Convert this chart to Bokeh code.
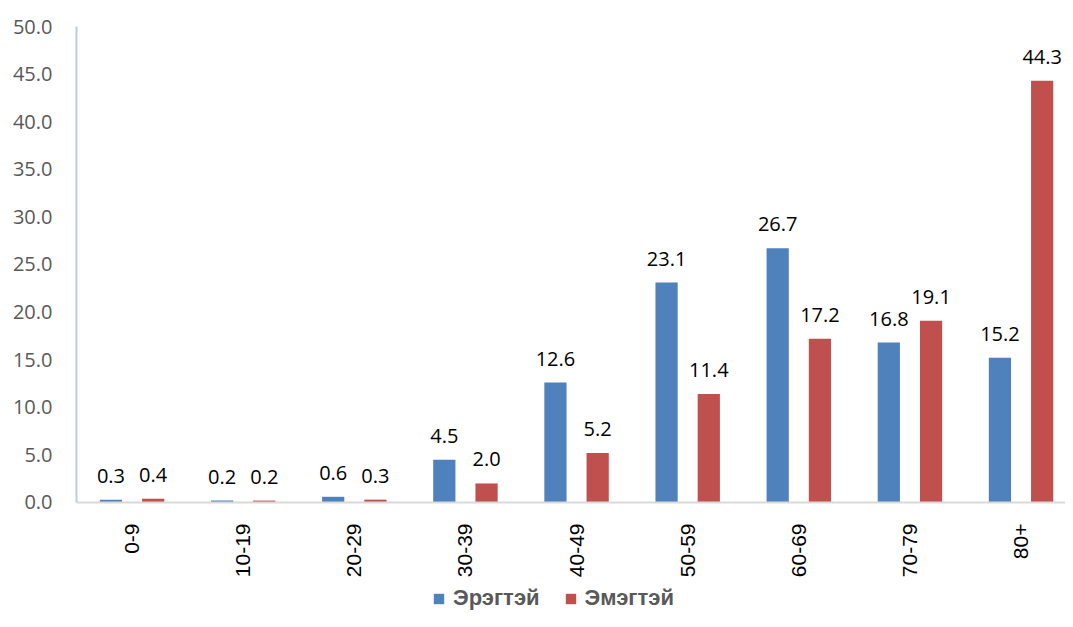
import math
from bokeh.plotting import figure
from bokeh.models import ColumnDataSource, LabelSet, Legend, LegendItem, FixedTicker, Range1d
from bokeh.core.properties import value
from bokeh.embed import file_html
from bokeh.resources import INLINE

categories = ["0-9", "10-19", "20-29", "30-39", "40-49", "50-59", "60-69", "70-79", "80+"]
male = [0.3, 0.2, 0.6, 4.5, 12.6, 23.1, 26.7, 16.8, 15.2]
female = [0.4, 0.2, 0.3, 2.0, 5.2, 11.4, 17.2, 19.1, 44.3]
series_names = ["Эрэгтэй", "Эмэгтэй"]
y_ticks = [0, 5, 10, 15, 20, 25, 30, 35, 40, 45, 50]

BLUE = "#4f81bd"
RED = "#c0504d"
GREY = "#595959"

W, H = 1065, 611
p = figure(width=W, height=H, output_backend="svg", toolbar_location=None,
           x_range=Range1d(0, 8.9), y_range=Range1d(-11.45, 50),
           min_border_left=76, min_border_right=0, min_border_top=26, min_border_bottom=0)
p.outline_line_color = None
p.xgrid.visible = False
p.ygrid.visible = False
p.background_fill_color = "white"

centers = [i + 0.5 for i in range(len(categories))]
src_m = ColumnDataSource(dict(x=[c - 0.19 for c in centers], top=male,
                              lab=["%.1f" % v for v in male]))
src_f = ColumnDataSource(dict(x=[c + 0.19 for c in centers], top=female,
                              lab=["%.1f" % v for v in female]))

rm = p.vbar(x="x", top="top", width=0.2, source=src_m, fill_color=BLUE, line_color=None)
rf = p.vbar(x="x", top="top", width=0.2, source=src_f, fill_color=RED, line_color=None)

for src in (src_m, src_f):
    p.add_layout(LabelSet(x="x", y="top", text="lab", source=src, y_offset=17,
                          text_align="center", text_baseline="alphabetic",
                          text_font=value("Open Sans"), text_font_size=value("20px"),
                          text_color="#000000"))

# axes
p.xaxis.fixed_location = 0
p.xaxis.ticker = FixedTicker(ticks=centers)
p.xaxis.major_label_overrides = {c: lab for c, lab in zip(centers, categories)}
p.xaxis.major_label_orientation = math.pi / 2
p.xaxis.major_label_text_font = "Liberation Sans"
p.xaxis.major_label_text_font_size = "21px"
p.xaxis.major_label_text_color = "#000000"
p.xaxis.major_label_standoff = 15
p.xaxis.major_tick_line_color = None
p.xaxis.minor_tick_line_color = None
p.xaxis.axis_line_color = "#d9d9d9"
p.xaxis.axis_line_width = 2

p.yaxis.bounds = (0, 50)
p.yaxis.ticker = FixedTicker(ticks=y_ticks)
p.yaxis.major_label_overrides = {t: "%.1f" % t for t in y_ticks}
p.yaxis.major_label_text_font = "Open Sans"
p.yaxis.major_label_text_font_size = "20px"
p.yaxis.major_label_text_color = GREY
p.yaxis.major_label_standoff = 18
p.yaxis.major_tick_line_color = None
p.yaxis.minor_tick_line_color = None
p.yaxis.axis_line_color = "#b9cde9"
p.yaxis.axis_line_width = 2

legend = Legend(items=[LegendItem(label=series_names[0], renderers=[rm]),
                       LegendItem(label=series_names[1], renderers=[rf])],
                location=(356, 0), orientation="horizontal",
                glyph_width=13, glyph_height=13, label_standoff=8, spacing=24,
                padding=0, margin=0, border_line_color=None, background_fill_alpha=0,
                label_text_font="Liberation Sans", label_text_font_style="bold",
                label_text_font_size="22px", label_text_color=GREY)
p.add_layout(legend, "center")

open("out.html", "w").write(file_html(p, INLINE))
